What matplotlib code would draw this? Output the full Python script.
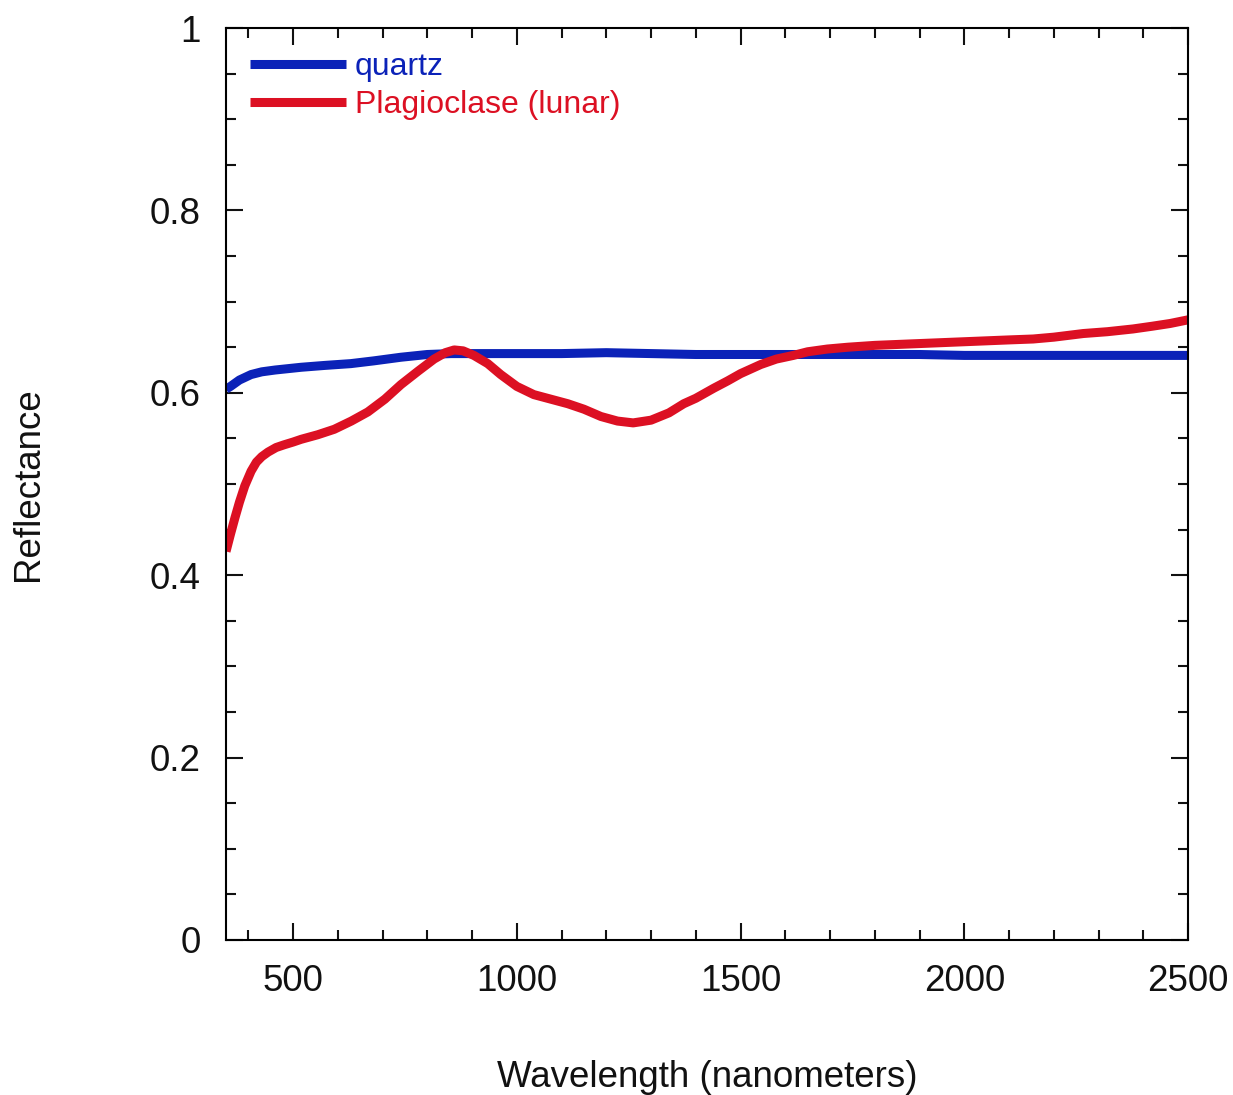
import numpy as np
import matplotlib
matplotlib.use("Agg")
import matplotlib.pyplot as plt
from matplotlib.ticker import MultipleLocator

# quartz spectrum
quartz_nm = [350, 360, 380, 406, 430, 460, 518, 570, 629, 680, 741, 800, 853, 900,
             1000, 1100, 1200, 1300, 1400, 1500, 1600, 1700, 1800, 1900, 2000,
             2100, 2200, 2300, 2400, 2500]
quartz_r = [0.604, 0.607, 0.614, 0.620, 0.623, 0.625, 0.628, 0.630, 0.632, 0.635,
            0.639, 0.642, 0.643, 0.643, 0.643, 0.643, 0.644, 0.643, 0.642, 0.642,
            0.642, 0.642, 0.642, 0.642, 0.641, 0.641, 0.641, 0.641, 0.641, 0.641]

# lunar plagioclase spectrum
plag_nm = [350, 360, 370, 380, 392, 406, 418, 430, 444, 462, 480, 500, 518, 555,
           592, 630, 667, 705, 741, 780, 815, 840, 860, 880, 904, 935, 964, 1000,
           1038, 1076, 1114, 1150, 1188, 1225, 1260, 1300, 1340, 1373, 1400, 1440,
           1471, 1500, 1545, 1580, 1618, 1650, 1694, 1740, 1800, 1850, 1900, 1950,
           2000, 2050, 2100, 2154, 2200, 2266, 2320, 2377, 2420, 2460, 2500]
plag_r = [0.426, 0.445, 0.463, 0.480, 0.498, 0.514, 0.524, 0.530, 0.535, 0.540,
          0.543, 0.546, 0.549, 0.554, 0.560, 0.569, 0.579, 0.593, 0.609, 0.624,
          0.637, 0.644, 0.647, 0.646, 0.641, 0.632, 0.620, 0.607, 0.598, 0.593,
          0.588, 0.582, 0.574, 0.569, 0.567, 0.570, 0.578, 0.588, 0.594, 0.605,
          0.613, 0.621, 0.631, 0.637, 0.641, 0.645, 0.648, 0.650, 0.652, 0.653,
          0.654, 0.655, 0.656, 0.657, 0.658, 0.659, 0.661, 0.665, 0.667, 0.670,
          0.673, 0.676, 0.680]

plt.rcParams['font.family'] = ['Liberation Sans', 'DejaVu Sans']

fig = plt.figure(figsize=(12.33, 10.95), dpi=100)
ax = fig.add_axes([0.1833, 0.1416, 0.7802, 0.8328])

blue = '#0b22b8'
red = '#dc1023'
ax.plot(quartz_nm, quartz_r, color=blue, lw=6.5, label='quartz', solid_capstyle='butt')
ax.plot(plag_nm, plag_r, color=red, lw=6.5, label='Plagioclase (lunar)', solid_capstyle='butt')

ax.set_xlim(350, 2500)
ax.set_ylim(0, 1)
ax.xaxis.set_major_locator(MultipleLocator(500))
ax.xaxis.set_minor_locator(MultipleLocator(100))
ax.yaxis.set_minor_locator(MultipleLocator(0.05))
ax.set_yticks([0, 0.2, 0.4, 0.6, 0.8, 1])
ax.set_yticklabels(['0', '0.2', '0.4', '0.6', '0.8', '1'])

ax.tick_params(which='both', direction='in', top=True, right=True, width=1.5,
               labelsize=26.5, colors='#111111')
ax.tick_params(which='major', length=12)
ax.tick_params(which='minor', length=7)
ax.tick_params(axis='y', pad=18)
ax.tick_params(axis='x', pad=17)
for s in ax.spines.values():
    s.set_linewidth(1.5)

ax.set_xlabel('Wavelength (nanometers)', fontsize=26.5, color='#111111')
ax.set_ylabel('Reflectance', fontsize=26.5, color='#111111')
ax.xaxis.set_label_coords(0.5, -0.132)
ax.yaxis.set_label_coords(-0.187, 0.5)

leg = ax.legend(loc='upper left', fontsize=23, frameon=False, handlelength=3.0,
                handletextpad=0.28, labelspacing=0.25, borderaxespad=0.3,
                borderpad=0.45, labelcolor='linecolor')

fig.savefig('out.png', dpi=100)
